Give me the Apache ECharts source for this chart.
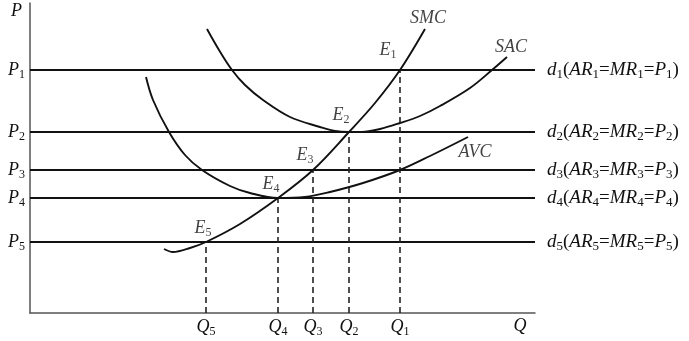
<!DOCTYPE html>
<html>
<head>
<meta charset="utf-8">
<script src="https://cdn.jsdelivr.net/npm/echarts@6/dist/echarts.min.js"></script>
<style>html,body{margin:0;padding:0;background:#fff}#c{width:689px;height:341px}</style>
</head>
<body>
<div id="c"></div>
<script>
// Quantities Q1..Q5 and prices P1..P5 (chart units)
const quantities = [370, 319, 283, 248, 176];
const prices = [243, 181, 143, 115, 71];
// SMC curve
const smcQ = [134, 143, 160, 176, 210, 248, 283, 319, 345, 370, 395];
const smcP = [64, 61, 65, 71, 89, 115, 143, 181, 210, 243, 284];
// SAC curve
const sacQ = [177, 189, 202, 215, 233, 260, 290, 305, 319, 332, 350, 370, 390, 410, 440, 462, 477];
const sacP = [284, 263, 243, 228, 213, 196, 186, 182, 181, 181, 184, 190, 197, 207, 225, 243, 256];
// AVC curve
const avcQ = [116, 123, 139, 155, 172, 200, 220, 248, 275, 300, 333, 370, 400, 438];
const avcP = [236, 213, 181, 158, 143, 127, 120, 115, 116, 121, 130, 143, 157, 176];
const curveNames = ['SMC', 'SAC', 'AVC'];
const qMax = 505, pMax = 310;

const FF = '"Liberation Serif", "DejaVu Serif", serif';
const rich = {
  i: {fontFamily: FF, fontStyle: 'italic', fontSize: 18, color: '#111'},
  n: {fontFamily: FF, fontSize: 18, color: '#111'},
  s: {fontFamily: FF, fontSize: 12, color: '#111', padding: [9, 0, 0, 0]}
};
const richD = {
  i: {fontFamily: FF, fontStyle: 'italic', fontSize: 19, color: '#111'},
  n: {fontFamily: FF, fontSize: 19, color: '#111'},
  s: {fontFamily: FF, fontSize: 13, color: '#111', padding: [9, 0, 0, 0]}
};
const zip = (a, b) => a.map((v, k) => [v, b[k]]);
const curveStyle = {color: '#111', width: 1.9};

const series = [];
// horizontal demand lines with end labels
prices.forEach((p, k) => {
  const n = k + 1;
  series.push({
    type: 'line', data: [[0, p], [qMax, p]], symbol: 'none', silent: true,
    lineStyle: {color: '#111', width: 2},
    endLabel: {
      show: true, distance: 12, rich: richD,
      formatter: `{i|d}{s|${n}}{n|(}{i|AR}{s|${n}}{n|=}{i|MR}{s|${n}}{n|=}{i|P}{s|${n}}{n|)}`
    }
  });
});
// dashed verticals
quantities.forEach((q, k) => {
  series.push({
    type: 'line', data: [[q, 0], [q, prices[k]]], symbol: 'none', silent: true,
    lineStyle: {color: '#222', width: 1.6, type: [6, 4]}
  });
});
// curves
[[smcQ, smcP], [sacQ, sacP], [avcQ, avcP]].forEach(([q, p]) => {
  series.push({type: 'line', data: zip(q, p), smooth: 0.35, symbol: 'none', lineStyle: curveStyle, silent: true});
});
// E labels
const eOff = [[-12, -20], [-8, -17], [-8, -15], [-7, -14], [-3, -14]];
series.push({
  type: 'scatter', symbolSize: 0, silent: true,
  data: quantities.map((q, k) => ({
    value: [q, prices[k]],
    label: {show: true, position: 'inside', offset: eOff[k], rich, formatter: `{i|E}{s|${k + 1}}`}
  }))
});
// curve name labels
const cOff = [[3, -11], [4, -10], [7, 15]];
const ends = [[smcQ, smcP], [sacQ, sacP], [avcQ, avcP]].map(([q, p]) => [q[q.length - 1], p[p.length - 1]]);
series.push({
  type: 'scatter', symbolSize: 0, silent: true,
  data: ends.map((e, k) => ({
    value: e,
    label: {show: true, position: 'inside', offset: cOff[k], rich, formatter: `{i|${curveNames[k]}}`}
  }))
});

const chart = echarts.init(document.getElementById('c'));
chart.setOption({
  animation: false,
  backgroundColor: '#fff',
  grid: {left: 30, right: 154, top: 3, bottom: 28, containLabel: false},
  xAxis: {
    type: 'value', min: 0, max: qMax,
    name: 'Q', nameLocation: 'end', nameGap: -15,
    nameTextStyle: {fontFamily: FF, fontStyle: 'italic', fontSize: 18, color: '#111', align: 'center', verticalAlign: 'top', padding: [4, 0, 0, 0]},
    axisLine: {lineStyle: {color: '#555', width: 1.5}},
    axisTick: {show: false}, splitLine: {show: false},
    axisLabel: {
      customValues: quantities, margin: 4, rich,
      formatter: v => `{i|Q}{s|${quantities.indexOf(v) + 1}}`
    }
  },
  yAxis: {
    type: 'value', min: 0, max: pMax,
    name: 'P', nameLocation: 'end', nameGap: -8,
    nameTextStyle: {fontFamily: FF, fontStyle: 'italic', fontSize: 18, color: '#111', align: 'right', verticalAlign: 'middle', padding: [0, 8, 0, 0]},
    axisLine: {lineStyle: {color: '#555', width: 1.5}},
    axisTick: {show: false}, splitLine: {show: false},
    axisLabel: {
      customValues: prices, margin: 5, rich,
      formatter: v => `{i|P}{s|${prices.indexOf(v) + 1}}`
    }
  },
  series
});
</script>
</body>
</html>
